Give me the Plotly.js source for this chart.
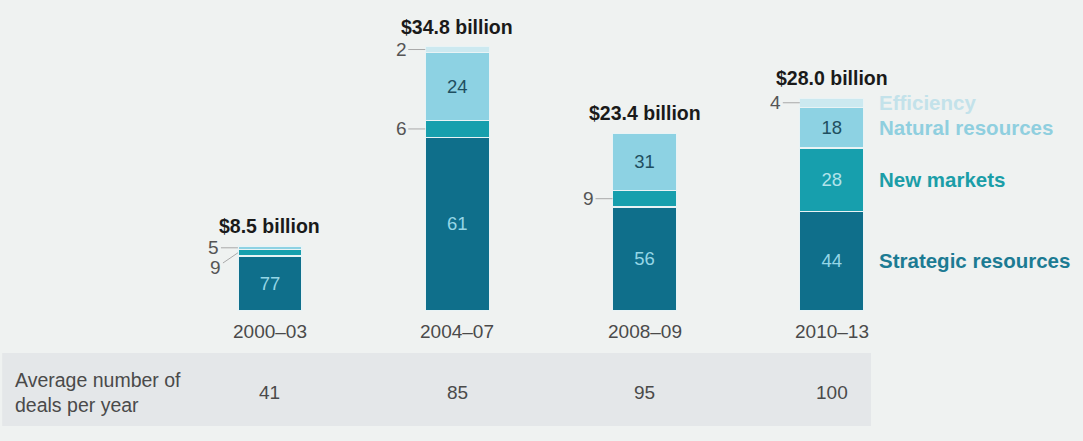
<!DOCTYPE html>
<html>
<head>
<meta charset="utf-8">
<script src="https://cdn.plot.ly/plotly-3.0.1.min.js"></script>
<style>
html,body{margin:0;padding:0;background:#eff2f1;}
#chart{width:1083px;height:441px;}
</style>
</head>
<body>
<div id="chart"></div>
<script>
// ---- data ----
var periods = ['2000–03', '2004–07', '2008–09', '2010–13'];
var totals = [8.5, 34.8, 23.4, 28.0];            // $ billion
var strategic = [77, 61, 56, 44];                 // % share
var newMarkets = [9, 6, 9, 28];
var natural = [5, 24, 31, 18];
var efficiency = [0, 2, 0, 4];
var deals = [41, 85, 95, 100];                    // average number of deals per year
var seriesNames = ['Strategic resources', 'New markets', 'Natural resources', 'Efficiency'];

// ---- styling ----
var barColors = ['#0f6f8b', '#179fad', '#8dd2e3', '#cce9f0'];
var inTextColors = ['#95d6e6', '#b2e3ea', '#1f4f60', '#1f4f60'];
var legendColors = ['#1c7b93', '#1b9ea8', '#8fcfdf', '#c3e2ea'];
var FONT = 'Liberation Sans, Arial, sans-serif';
var BW = 0.342;

var series = [strategic, newMarkets, natural, efficiency];
var sums = periods.map(function (p, i) {
  return series.reduce(function (a, s) { return a + s[i]; }, 0);
});
var x = periods.map(function (p, i) { return i; });

var traces = [];
var annotations = [];
var cum = periods.map(function () { return 0; });

series.forEach(function (s, k) {
  var y = s.map(function (v, i) { return totals[i] * v / sums[i]; });
  traces.push({
    type: 'bar',
    name: seriesNames[k],
    x: x,
    y: y,
    width: BW,
    marker: { color: barColors[k], line: { color: '#e9f3f5', width: 1.2 } },
    text: s.map(function (v) { return v >= 10 ? String(v) : ''; }),
    textposition: 'inside',
    insidetextanchor: 'middle',
    textangle: 0,
    constraintext: 'none',
    textfont: { family: FONT, size: 18.5, color: inTextColors[k] },
    hoverinfo: 'skip'
  });
  s.forEach(function (v, i) {
    var mid = cum[i] + y[i] / 2;
    if (v > 0 && v < 10) {
      annotations.push({
        x: i - BW / 2, y: mid, xref: 'x', yref: 'y',
        text: String(v), showarrow: true, arrowhead: 0, arrowwidth: 1,
        arrowcolor: '#a9a9a9', ax: -24, ay: 0, standoff: 0,
        font: { family: FONT, size: 19, color: '#555555' }
      });
    }
    if (i === periods.length - 1) {
      annotations.push({
        x: i + BW / 2, y: mid, xref: 'x', yref: 'y', xanchor: 'left',
        xshift: 13, text: '<b>' + seriesNames[k] + '</b>', showarrow: false,
        font: { family: FONT, size: 20.5, color: legendColors[k] }
      });
    }
    cum[i] += y[i];
  });
});

// in the first bar two small labels stack: move the lower one down
(function () {
  var firstBar = annotations.filter(function (a) { return a.showarrow && a.x === -BW / 2; });
  if (firstBar.length > 1) {
    firstBar[0].ay = 15; firstBar[0].ax = -22;
  }
})();

periods.forEach(function (p, i) {
  annotations.push({
    x: i, y: totals[i], xref: 'x', yref: 'y', yanchor: 'bottom', yshift: 7,
    text: '<b>$' + totals[i].toFixed(1) + ' billion</b>', showarrow: false,
    font: { family: FONT, size: 19.5, color: '#1a1a1a' }
  });
  annotations.push({
    x: i, y: 0, xref: 'x', yref: 'y', yanchor: 'top', yshift: -9,
    text: p, showarrow: false,
    font: { family: FONT, size: 19, color: '#4a4a4a' }
  });
  annotations.push({
    x: i, y: 1 - 392 / 441, xref: 'x', yref: 'paper', yanchor: 'middle',
    text: String(deals[i]), showarrow: false,
    font: { family: FONT, size: 19, color: '#4a4a4a' }
  });
});

annotations.push({
  x: 13 / 1083, y: 1 - 392 / 441, xref: 'paper', yref: 'paper',
  xanchor: 'left', yanchor: 'middle', align: 'left',
  text: 'Average number of<br>deals per year', showarrow: false,
  font: { family: FONT, size: 19.5, color: '#4a4a4a' }
});

var layout = {
  width: 1083, height: 441,
  margin: { l: 0, r: 0, t: 0, b: 0 },
  paper_bgcolor: '#eff2f1', plot_bgcolor: '#eff2f1',
  barmode: 'stack',
  showlegend: false,
  xaxis: { range: [-1.4415, 4.341], visible: false, fixedrange: true },
  yaxis: { range: [-17.22, 40.96], visible: false, fixedrange: true },
  shapes: [{
    type: 'rect', xref: 'paper', yref: 'paper', layer: 'below',
    x0: 0.002, x1: 871 / 1083, y0: 1 - 426 / 441, y1: 1 - 353 / 441,
    fillcolor: '#e4e7e9', line: { width: 0 }
  }],
  annotations: annotations
};

Plotly.newPlot('chart', traces, layout, { displayModeBar: false, staticPlot: true });
</script>
</body>
</html>
